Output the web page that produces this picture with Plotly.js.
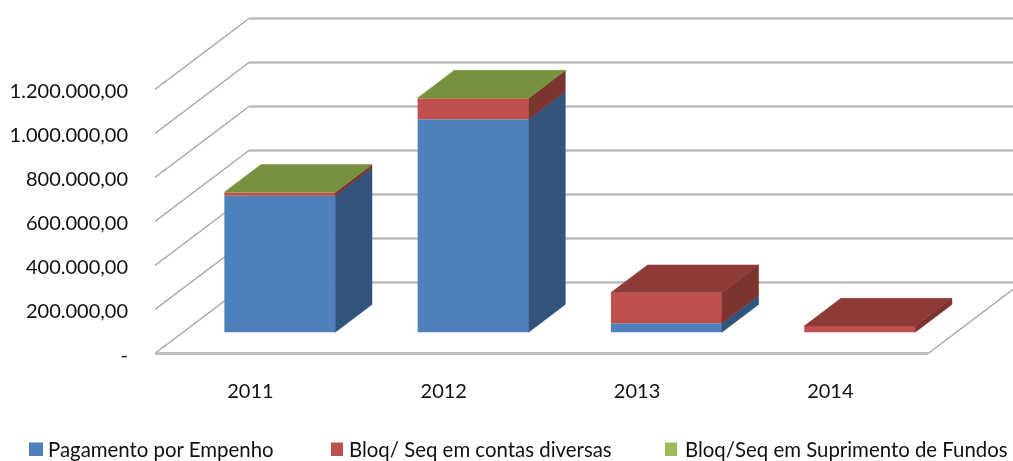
<!DOCTYPE html>
<html><head><meta charset="utf-8">
<script src="https://cdn.plot.ly/plotly-3.0.1.min.js"></script>
<style>html,body{margin:0;padding:0;background:#fff;overflow:hidden}#chart{filter:blur(0.4px)}</style>
</head><body><div id="chart" style="width:1013px;height:461px"></div>
<script>
// ---- data ----
const categories = ['2011', '2012', '2013', '2014'];
const pagamentoEmpenho = [620000, 968000, 41000, 0];
const bloqContasDiversas = [15000, 95000, 139000, 28000];
const bloqSuprimentoFundos = [1500, 1500, 0, 0];
const yTickValues = [0, 200000, 400000, 600000, 800000, 1000000, 1200000];
const yTickLabels = ['-', '200.000,00', '400.000,00', '600.000,00', '800.000,00', '1.000.000,00', '1.200.000,00'];
const seriesNames = ['Pagamento por Empenho', 'Bloq/ Seq em contas diversas', 'Bloq/Seq em Suprimento de Fundos'];

// ---- styles ----
const seriesValues = [pagamentoEmpenho, bloqContasDiversas, bloqSuprimentoFundos];
const frontColors = ['#4F81BD', '#C0504D', '#9BBB59'];
const sideColors = ['#32547C', '#7D3330', '#5F7530'];
const topColors = ['#3E6797', '#8E3B38', '#78913F'];
const FONT = 'Lato, Carlito, sans-serif';
const TEXT = '#111111';

// oblique projection, expressed in axis units
const W = 1013, H = 461, L = 155, T = 10, FLOOR = 353.5, BOTTOM = 362;
const B = H - BOTTOM;
const PXX = 193.3, PXY = 44;
const xMax = (W - L) / PXX;
const yMax = (FLOOR - T) / PXY * 200000;
const yMin = -(BOTTOM - FLOOR) / PXY * 200000;
const depthX = 94 / PXX, depthY = 71 / PXY * 200000;
const barWidth = 111 / PXX, nearDepth = 0.3, farDepth = 0.69;
const labelNudgeY = 1.5 / PXY * 200000, labelNudgeX = 1.2 / PXX;
const n = categories.length;

const centers = categories.map((_, i) => i + 0.5);
const frontX = centers.map(c => c + nearDepth * depthX);
const baseY = nearDepth * depthY;
const barDX = (farDepth - nearDepth) * depthX, barDY = (farDepth - nearDepth) * depthY;

let traces = [];
let running = categories.map(() => 0);
seriesValues.forEach((vals, s) => {
  const bases = running.map(r => r + baseY);
  traces.push({type: 'bar', x: frontX, y: vals, base: bases, width: barWidth,
    name: seriesNames[s], marker: {color: frontColors[s], line: {width: 0}}, showlegend: false, hoverinfo: 'y+name'});
  const sx = [], sy = [], tx = [], ty = [];
  vals.forEach((v, i) => {
    const right = frontX[i] + barWidth / 2, left = frontX[i] - barWidth / 2;
    const y0 = bases[i], y1 = y0 + v;
    if (v > 0) {
      sx.push(right, right + barDX, right + barDX, right, right, null);
      sy.push(y0, y0 + barDY, y1 + barDY, y1, y0, null);
      const above = seriesValues.slice(s + 1).reduce((a, arr) => a + arr[i], 0);
      if (above === 0) {
        tx.push(left, right, right + barDX, left + barDX, left, null);
        ty.push(y1, y1, y1 + barDY, y1 + barDY, y1, null);
      }
    }
    running[i] += v;
  });
  traces.push({type: 'scatter', mode: 'lines', x: sx, y: sy, fill: 'toself', fillcolor: sideColors[s],
    line: {width: 0.5, color: sideColors[s]}, showlegend: false, hoverinfo: 'skip'});
  if (tx.length) traces.push({type: 'scatter', mode: 'lines', x: tx, y: ty, fill: 'toself', fillcolor: topColors[s],
    line: {width: 0.5, color: topColors[s]}, showlegend: false, hoverinfo: 'skip'});
});

// wall + floor lines
const shapes = [];
const dLine = {color: '#a8a8a8', width: 1.4};
const bLine = {color: '#bdbdbd', width: 2.4};
yTickValues.forEach(v => {
  shapes.push({type: 'line', xref: 'x', yref: 'y', layer: 'below', x0: 0, y0: v, x1: depthX, y1: v + depthY, line: dLine});
  shapes.push({type: 'line', xref: 'x', yref: 'y', layer: 'below', x0: depthX, y0: v + depthY, x1: xMax, y1: v + depthY, line: bLine});
});
shapes.push({type: 'line', xref: 'x', yref: 'y', layer: 'below', x0: 0, y0: 0, x1: n, y1: 0, line: {color: '#bfbfbf', width: 3}});
shapes.push({type: 'line', xref: 'x', yref: 'y', layer: 'below', x0: n, y0: 0, x1: n + depthX, y1: depthY, line: dLine});

// legend
const swatchX = [29, 331, 665], labelX = [47, 348, 684], swatchW = [14, 12, 12];
const annotations = [];
const plotH = H - T - B, plotW = W - L;
seriesNames.forEach((name, s) => {
  shapes.push({type: 'rect', xref: 'paper', yref: 'paper', layer: 'above',
    x0: (swatchX[s] - L) / plotW, x1: (swatchX[s] + swatchW[s] - L) / plotW,
    y0: (BOTTOM - 456) / plotH, y1: (BOTTOM - 442.5) / plotH,
    fillcolor: frontColors[s], line: {width: 0}});
  annotations.push({xref: 'paper', yref: 'paper', x: (labelX[s] - L) / plotW, y: (BOTTOM - 449) / plotH,
    xanchor: 'left', yanchor: 'middle', text: name, showarrow: false, align: 'left', borderpad: 0,
    font: {family: FONT, size: 20.4, color: TEXT}});
});

Plotly.newPlot('chart', traces, {
  width: W, height: H, margin: {l: L, r: 0, t: T, b: B, pad: 0},
  paper_bgcolor: '#fff', plot_bgcolor: '#fff', barmode: 'overlay', showlegend: false,
  xaxis: {range: [0, xMax], tickmode: 'array', tickvals: centers.map(c => c - labelNudgeX), ticktext: categories, showgrid: false, zeroline: false,
    showline: false, ticks: '', ticklabelstandoff: 15, tickfont: {family: FONT, size: 20, color: TEXT}},
  yaxis: {range: [yMin, yMax], tickmode: 'array', tickvals: yTickValues.map(v => v - labelNudgeY), ticktext: yTickLabels, showgrid: false, zeroline: false,
    showline: false, ticks: '', ticklabelstandoff: 26, tickfont: {family: FONT, size: 20, color: TEXT}},
  shapes, annotations
}, {displayModeBar: false, staticPlot: true});
</script></body></html>
